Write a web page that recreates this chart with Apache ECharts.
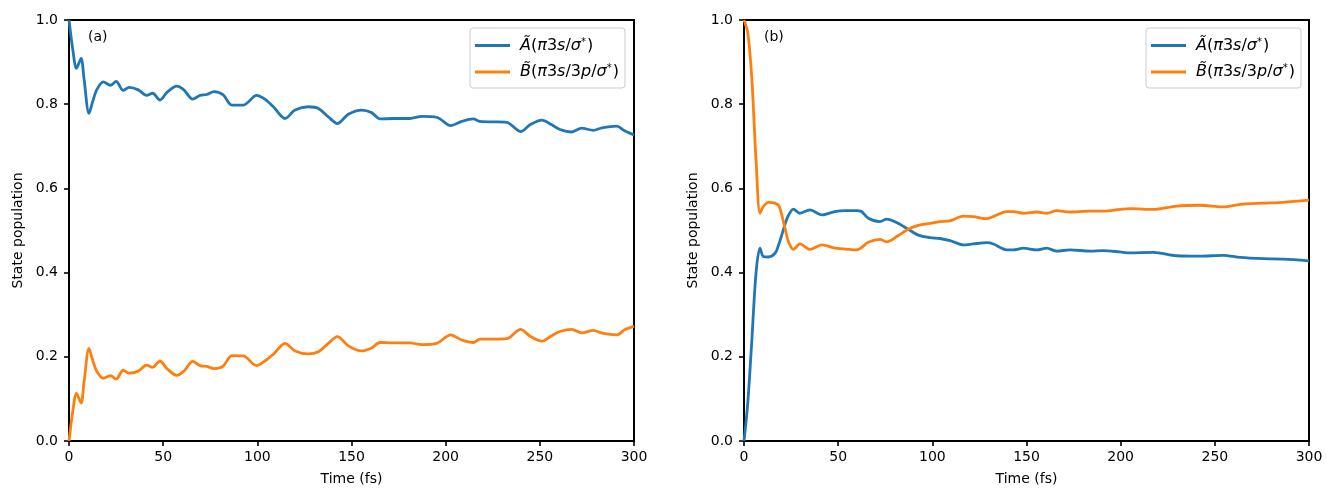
<!DOCTYPE html>
<html>
<head>
<meta charset="utf-8">
<script src="https://cdn.jsdelivr.net/npm/echarts@6/dist/echarts.min.js"></script>
<style>
  html, body { margin: 0; padding: 0; background: #fff; }
  #chart { width: 1326px; height: 489px; }
</style>
</head>
<body>
<div id="chart"></div>
<script>
// Panel (a): time grid (fs) and state populations
const timeA = [0, 2, 4, 6.4, 8, 10.6, 12.5, 14.7, 18.2, 22.1, 25, 28.8, 32, 36.8, 41.2, 44.4, 48.3, 52, 57.2, 61,
  65.7, 69.6, 73.1, 77, 81.9, 86.4, 92.6, 99.6, 104, 108.5, 114.7, 120, 127, 132.4, 137.7, 142.5, 148.3, 155.4,
  160.7, 165.1, 172.2, 181, 187.3, 195.2, 202.7, 208.5, 214.7, 218.2, 225.3, 232.4, 239.8, 244.8, 251, 256.3,
  260.7, 266.9, 272.2, 278.4, 283, 290.8, 295, 300];
const popA_Atilde = [1.0, 0.93, 0.885, 0.909, 0.86, 0.778, 0.805, 0.834, 0.853, 0.845, 0.854, 0.833, 0.840, 0.834,
  0.821, 0.826, 0.810, 0.828, 0.843, 0.834, 0.812, 0.821, 0.823, 0.830, 0.822, 0.798, 0.798, 0.821, 0.812, 0.794,
  0.766, 0.786, 0.794, 0.790, 0.770, 0.754, 0.776, 0.786, 0.780, 0.765, 0.766, 0.766, 0.771, 0.769, 0.749, 0.759,
  0.765, 0.759, 0.758, 0.757, 0.735, 0.751, 0.762, 0.751, 0.740, 0.734, 0.743, 0.738, 0.744, 0.748, 0.737, 0.727];
const popA_Btilde = [0.0, 0.07, 0.113, 0.090, 0.14, 0.220, 0.193, 0.166, 0.149, 0.155, 0.147, 0.168, 0.161, 0.166,
  0.180, 0.175, 0.190, 0.172, 0.156, 0.166, 0.189, 0.179, 0.177, 0.172, 0.178, 0.203, 0.202, 0.179, 0.190, 0.206,
  0.232, 0.214, 0.207, 0.212, 0.232, 0.248, 0.226, 0.214, 0.221, 0.234, 0.233, 0.233, 0.229, 0.232, 0.252, 0.240,
  0.234, 0.242, 0.242, 0.243, 0.265, 0.249, 0.237, 0.250, 0.260, 0.265, 0.257, 0.263, 0.256, 0.252, 0.264, 0.273];

// Panel (b): time grid (fs) and state populations
const timeB = [0, 2, 4.1, 6.4, 8.5, 10.3, 12.9, 16.5, 18.7, 21.8, 23.5, 26.2, 29.7, 35, 41.3, 48.3, 54, 59.8, 62,
  66, 72.2, 75.7, 81, 87.2, 92.5, 98.8, 104, 109.4, 116.5, 121.6, 128.9, 132.4, 139.5, 143, 148.3, 155.4, 160.7,
  166, 173.1, 183.7, 190.8, 199.6, 205, 217.3, 229.7, 242.1, 254.5, 263.4, 275.8, 286.4, 300];
const popB_Atilde = [0.0, 0.09, 0.235, 0.40, 0.458, 0.438, 0.437, 0.446, 0.47, 0.515, 0.535, 0.551, 0.541, 0.549,
  0.537, 0.545, 0.547, 0.547, 0.546, 0.529, 0.521, 0.527, 0.519, 0.503, 0.489, 0.483, 0.481, 0.476, 0.466, 0.468,
  0.471, 0.468, 0.454, 0.454, 0.458, 0.454, 0.458, 0.451, 0.454, 0.451, 0.452, 0.449, 0.447, 0.448, 0.440, 0.439,
  0.441, 0.436, 0.433, 0.432, 0.428];
const popB_Btilde = [1.0, 0.97, 0.865, 0.667, 0.541, 0.557, 0.567, 0.565, 0.557, 0.505, 0.475, 0.455, 0.468, 0.455,
  0.466, 0.458, 0.456, 0.454, 0.458, 0.472, 0.479, 0.473, 0.485, 0.503, 0.512, 0.517, 0.521, 0.523, 0.534, 0.533,
  0.528, 0.533, 0.545, 0.545, 0.541, 0.544, 0.541, 0.547, 0.544, 0.546, 0.546, 0.550, 0.552, 0.550, 0.558, 0.560,
  0.556, 0.562, 0.565, 0.567, 0.572];

// Axis tick settings
const xTicks = { min: 0, max: 300, interval: 50 };
const yTicks = { min: 0, max: 1, interval: 0.2 };

const seriesNames = ['A', 'B'];
const legendLabels = {
  A: ' {it|Ã}{rm|(}{it|π}{rm|3}{it|s}{rm|/}{it|σ}{sup|*}{rm|)}',
  B: ' {it|B̃}{rm|(}{it|π}{rm|3}{it|s}{rm|/3}{it|p}{rm|/}{it|σ}{sup|*}{rm|)}'
};
const colors = { A: '#1f77b4', B: '#ff7f0e' };

const FONT = 'DejaVu Sans';
const TICK_FONT = 14;
const LEGEND_FONT = 16;
const pairs = (xs, ys) => xs.map((x, i) => [x, ys[i]]);

// Fixed plot rectangles for the two panels
const grids = [
  { left: 69, right: 692, top: 20, bottom: 48 },
  { left: 744, right: 17, top: 20, bottom: 48 }
];

const axisLineStyle = { show: true, onZero: false, lineStyle: { color: '#000', width: 2 } };
const axisTickStyle = { show: true, length: 5, lineStyle: { color: '#000', width: 1.6 } };

function xAxisFor(idx) {
  return {
    type: 'value', gridIndex: idx, min: xTicks.min, max: xTicks.max, interval: xTicks.interval,
    name: 'Time (fs)', nameLocation: 'middle', nameGap: 31,
    nameTextStyle: { color: '#000', fontFamily: FONT, fontSize: TICK_FONT },
    axisLine: axisLineStyle, axisTick: axisTickStyle,
    axisLabel: { color: '#000', fontFamily: FONT, fontSize: TICK_FONT, margin: 9 },
    splitLine: { show: false }
  };
}
function yAxisFor(idx) {
  return {
    type: 'value', gridIndex: idx, min: yTicks.min, max: yTicks.max, interval: yTicks.interval,
    name: 'State population', nameLocation: 'middle', nameGap: 44,
    nameTextStyle: { color: '#000', fontFamily: FONT, fontSize: TICK_FONT },
    axisLine: axisLineStyle, axisTick: axisTickStyle,
    axisLabel: { color: '#000', fontFamily: FONT, fontSize: TICK_FONT, margin: 11, formatter: v => v.toFixed(1) },
    splitLine: { show: false }
  };
}

function lineSeries(name, idx, xs, ys) {
  return {
    name: name, type: 'line', xAxisIndex: idx, yAxisIndex: idx,
    data: pairs(xs, ys), smooth: 0.3, showSymbol: false, symbol: 'none',
    lineStyle: { color: colors[name], width: 2.8 }, itemStyle: { color: colors[name] },
    clip: true, z: 3
  };
}

function legendFor(left) {
  return {
    data: seriesNames, orient: 'vertical', left: left, top: 28,
    icon: 'rect', itemWidth: 35, itemHeight: 3, itemGap: 10,
    padding: [9, 6, 8, 5], borderColor: '#cccccc', borderWidth: 1, borderRadius: 3,
    backgroundColor: '#fff',
    formatter: n => legendLabels[n],
    textStyle: {
      color: '#000', fontFamily: FONT, fontSize: LEGEND_FONT,
      rich: {
        it: { fontFamily: FONT, fontStyle: 'italic', fontSize: LEGEND_FONT, color: '#000' },
        rm: { fontFamily: FONT, fontSize: LEGEND_FONT, color: '#000' },
        sup: { fontFamily: FONT, fontSize: 10, color: '#000', verticalAlign: 'top', padding: [0, 1, 7, 0] }
      }
    }
  };
}

const chart = echarts.init(document.getElementById('chart'), null, { renderer: 'canvas' });
chart.setOption({
  animation: false,
  backgroundColor: '#fff',
  title: [
    { text: '(a)', left: 88, top: 30, textStyle: { color: '#000', fontFamily: FONT, fontSize: TICK_FONT, fontWeight: 'normal' }, padding: 0 },
    { text: '(b)', left: 764, top: 30, textStyle: { color: '#000', fontFamily: FONT, fontSize: TICK_FONT, fontWeight: 'normal' }, padding: 0 }
  ],
  grid: grids.map(g => Object.assign({
    show: true, borderColor: '#000', borderWidth: 2, backgroundColor: 'transparent',
    containLabel: false, outerBoundsMode: 'none'
  }, g)),
  xAxis: [xAxisFor(0), xAxisFor(1)],
  yAxis: [yAxisFor(0), yAxisFor(1)],
  legend: [legendFor(470), legendFor(1146)],
  series: [
    lineSeries('A', 0, timeA, popA_Atilde),
    lineSeries('B', 0, timeA, popA_Btilde),
    lineSeries('A', 1, timeB, popB_Atilde),
    lineSeries('B', 1, timeB, popB_Btilde)
  ]
});
</script>
</body>
</html>
